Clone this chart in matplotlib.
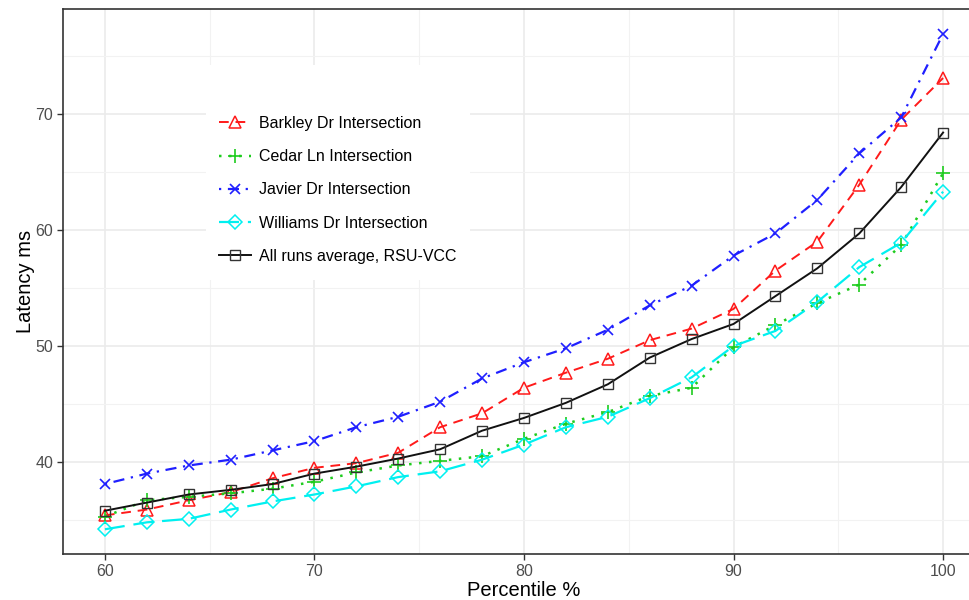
import matplotlib
matplotlib.use("Agg")
import matplotlib.pyplot as plt
from matplotlib.patches import Rectangle
from matplotlib.ticker import MultipleLocator

plt.rcParams['font.family'] = ['Liberation Sans', 'DejaVu Sans']

percentile = [60, 62, 64, 66, 68, 70, 72, 74, 76, 78, 80, 82, 84, 86, 88, 90, 92, 94, 96, 98, 100]

barkley = [35.4, 35.9, 36.7, 37.4, 38.6, 39.5, 39.9, 40.8, 43.0, 44.2, 46.4, 47.7, 48.9, 50.5, 51.5, 53.2, 56.5, 59.0, 63.9, 69.5, 73.1]
cedar = [35.3, 36.7, 37.0, 37.3, 37.7, 38.3, 39.1, 39.7, 40.1, 40.5, 42.0, 43.3, 44.3, 45.7, 46.4, 49.9, 51.8, 53.7, 55.3, 58.7, 64.9]
javier = [38.1, 39.0, 39.7, 40.2, 41.0, 41.8, 43.0, 43.9, 45.2, 47.2, 48.6, 49.8, 51.4, 53.5, 55.2, 57.8, 59.7, 62.6, 66.6, 69.7, 76.9]
williams = [34.2, 34.8, 35.1, 35.9, 36.6, 37.2, 37.9, 38.7, 39.2, 40.2, 41.5, 43.0, 43.9, 45.5, 47.3, 50.0, 51.3, 53.8, 56.8, 58.9, 63.3]
average = [35.8, 36.5, 37.2, 37.6, 38.1, 39.0, 39.6, 40.3, 41.1, 42.7, 43.8, 45.1, 46.7, 49.0, 50.6, 51.9, 54.3, 56.7, 59.7, 63.7, 68.4]

labels = ["Barkley Dr Intersection", "Cedar Ln Intersection", "Javier Dr Intersection",
          "Williams Dr Intersection", "All runs average, RSU-VCC"]

fig = plt.figure(figsize=(9.7, 6.0), dpi=100)
ax = fig.add_axes([63/970, 46/600, 922/970, 545/600])

ms = 8
lw = 1.4
ax.plot(percentile, barkley, color='#ff1a1a', linestyle=(0, (5, 3.5)), lw=lw,
        marker='^', ms=ms, mfc='none', mec='#ff1a1a', mew=1.1, label=labels[0], zorder=3)
ax.plot(percentile, cedar, color='#1ecc1e', linestyle=(0, (1, 3)), lw=lw + 0.4,
        marker='+', ms=ms + 2, mec='#1ecc1e', mew=1.2, label=labels[1], zorder=3)
ax.plot(percentile, javier, color='#1f1fff', linestyle=(0, (1, 3, 5, 3)), lw=lw + 0.2,
        marker='x', ms=ms - 1, mec='#1f1fff', mew=1.2, label=labels[2], zorder=3)
ax.plot(percentile, williams, color='#00f0f0', linestyle=(0, (9, 4)), lw=lw + 0.2,
        marker='D', ms=ms - 1, mfc='none', mec='#00f0f0', mew=1.1, label=labels[3], zorder=3)
ax.plot(percentile, average, color='#111111', linestyle='-', lw=lw,
        marker='s', ms=ms - 1, mfc='none', mec='#333333', mew=1.0, label=labels[4], zorder=3)

ax.set_xlim(58, 102)
ax.set_ylim(32.07, 79.05)
ax.xaxis.set_major_locator(MultipleLocator(10))
ax.xaxis.set_minor_locator(MultipleLocator(5))
ax.yaxis.set_major_locator(MultipleLocator(10))
ax.yaxis.set_minor_locator(MultipleLocator(5))
ax.set_axisbelow(True)
ax.grid(which='major', color='#ebebeb', lw=1.2)
ax.grid(which='minor', color='#f2f2f2', lw=0.8)
ax.tick_params(which='major', length=4, width=1, color='#333333', labelsize=11.5,
               labelcolor='#4d4d4d', pad=3)
ax.tick_params(which='minor', length=0)
for s in ax.spines.values():
    s.set_color('#333333')
    s.set_linewidth(1.2)

ax.set_xlabel("Percentile %", fontsize=14.5, color='black', labelpad=2)
ax.set_ylabel("Latency ms", fontsize=14.5, color='black', labelpad=0)

# legend background
bg = Rectangle((206/970, 1 - 280/600), (470 - 206)/970, (280 - 65)/600,
               transform=fig.transFigure, facecolor='white', edgecolor='none', zorder=1.5)
ax.add_patch(bg)
leg = ax.legend(loc='upper left', bbox_to_anchor=(211/970, 1 - 108/600),
                bbox_transform=fig.transFigure, frameon=False, fontsize=11.5,
                handlelength=2.0, handletextpad=0.48, labelspacing=1.14, borderpad=0)

fig.savefig("out.png", dpi=100)
